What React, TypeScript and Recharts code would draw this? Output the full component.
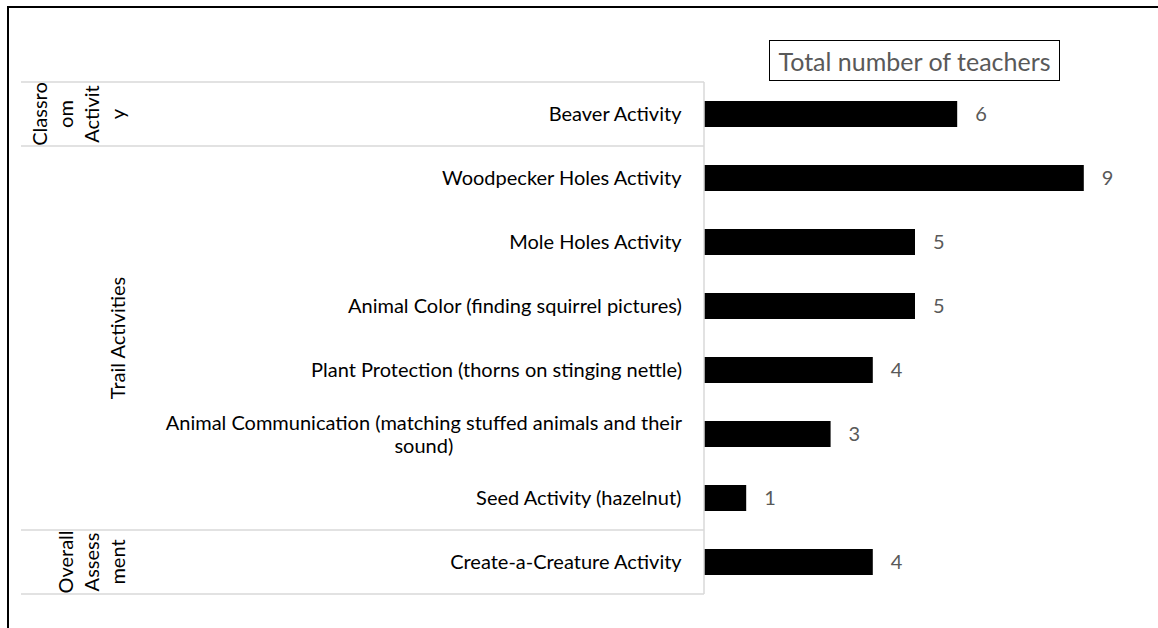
import { BarChart, Bar, XAxis, YAxis, LabelList, Legend } from "recharts";

const categories = [
  "Beaver Activity",
  "Woodpecker Holes Activity",
  "Mole Holes Activity",
  "Animal Color (finding squirrel pictures)",
  "Plant Protection (thorns on stinging nettle)",
  "Animal Communication (matching stuffed animals and their\nsound)",
  "Seed Activity (hazelnut)",
  "Create-a-Creature Activity",
];
const teachers = [6, 9, 5, 5, 4, 3, 1, 4];
// which group each activity belongs to
const groupOf = [0, 1, 1, 1, 1, 1, 1, 2];
// group names, wrapped the way the original narrow column wraps them
const groupLines = [
  ["Classro", "om", "Activit", "y"],
  ["Trail Activities"],
  ["Overall", "Assess", "ment"],
];
const seriesName = "Total number of teachers";

const data = categories.map((name, i) => ({
  name,
  teachers: teachers[i],
}));

const FONT = "Lato, 'Open Sans', sans-serif";
const W = 1149;
const H = 620;
const M = { top: 74, right: 32, bottom: 34, left: 12 };
const AXIS_W = 683;
const TICK_GAP = 22;
const ROW_H = (H - M.top - M.bottom) / categories.length;
const GRID = "#d9d9d9";

let ctx: CanvasRenderingContext2D | null = null;
function textWidth(s: string) {
  if (!ctx) ctx = document.createElement("canvas").getContext("2d");
  if (!ctx) return s.length * 9;
  ctx.font = `20px ${FONT}`;
  return ctx.measureText(s).width;
}

function RowTick(props: any) {
  const { x, y, payload, index } = props;
  const axisRight = x + TICK_GAP;
  const lines = String(payload.value).split("\n");
  const lh = 23;
  // wrapped lines are centred on each other, block right-aligned
  const blockW = Math.max(...lines.map(textWidth));
  const cx = x - blockW / 2;
  const g = groupOf[index];
  const first = index === 0 || groupOf[index - 1] !== g;
  const isLast = index === categories.length - 1;
  const top = y - ROW_H / 2;
  const span = groupOf.filter((v) => v === g).length;
  const gl = groupLines[g];
  const gy = top + (span * ROW_H) / 2;
  return (
    <g>
      <text
        x={cx}
        y={y}
        textAnchor="middle"
        fontFamily={FONT}
        fontSize={20}
        fill="#000"
      >
        {lines.map((l, i) => (
          <tspan
            key={i}
            x={cx}
            dy={i === 0 ? -((lines.length - 1) * lh) / 2 + 7 : lh}
          >
            {l}
          </tspan>
        ))}
      </text>
      {first && (
        <line x1={M.left} x2={axisRight} y1={top} y2={top} stroke={GRID} strokeWidth={1.5} />
      )}
      {isLast && (
        <line x1={M.left} x2={axisRight} y1={top + ROW_H} y2={top + ROW_H} stroke={GRID} strokeWidth={1.5} />
      )}
      {first && (
        <text
          transform={`translate(116, ${gy}) rotate(-90)`}
          textAnchor="middle"
          fontFamily={FONT}
          fontSize={20}
          fill="#000"
        >
          {gl.map((l, i) => (
            <tspan key={i} x={0} y={-(gl.length - 1 - i) * 26}>
              {l}
            </tspan>
          ))}
        </text>
      )}
    </g>
  );
}

function LegendBox() {
  return (
    <div
      style={{
        width: 289,
        height: 39,
        border: "1.5px solid #000",
        display: "flex",
        alignItems: "center",
        justifyContent: "center",
        fontFamily: FONT,
        fontSize: 25,
        color: "#595959",
        background: "#fff",
        whiteSpace: "nowrap",
      }}
    >
      {seriesName}
    </div>
  );
}

export default function App() {
  return (
    <div
      style={{
        position: "absolute",
        left: 7,
        top: 6,
        width: 1200,
        height: 700,
        borderTop: "2px solid #000",
        borderLeft: "2px solid #000",
        background: "#fff",
      }}
    >
      <BarChart width={W} height={H} data={data} layout="vertical" margin={M}>
        <XAxis type="number" domain={[0, 10]} hide />
        <YAxis
          type="category"
          dataKey="name"
          width={AXIS_W}
          interval={0}
          tickSize={0}
          tickMargin={TICK_GAP}
          tickLine={false}
          axisLine={{ stroke: GRID, strokeWidth: 1.5 }}
          tick={<RowTick />}
        />
        <Legend
          layout="horizontal"
          align="center"
          verticalAlign="middle"
          content={() => <LegendBox />}
          wrapperStyle={{ left: 760, top: 32, width: "auto" }}
        />
        <Bar
          dataKey="teachers"
          name={seriesName}
          fill="#000"
          barSize={26}
          isAnimationActive={false}
        >
          <LabelList
            dataKey="teachers"
            position="right"
            offset={18}
            fill="#595959"
            fontSize={20}
            fontFamily={FONT}
          />
        </Bar>
      </BarChart>
    </div>
  );
}
